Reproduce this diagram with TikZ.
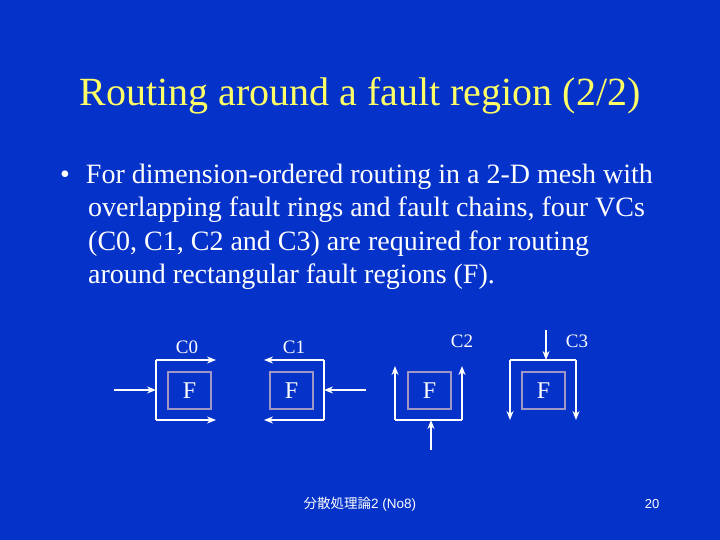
\documentclass[tikz,border=0pt]{standalone}
\usepackage{fontspec}
\setmainfont{Liberation Serif}
\newfontfamily\cjk{Noto Sans CJK JP}
\newfontfamily\sans{Liberation Sans}
\usetikzlibrary{arrows.meta}
\definecolor{bg}{RGB}{5,50,200}
\definecolor{ttl}{RGB}{255,255,102}
\definecolor{fb}{RGB}{160,150,200}
\begin{document}
\begin{tikzpicture}[x=1pt,y=-1pt,
  fbox/.style={draw=fb,line width=1.2pt,minimum width=43pt,minimum height=37pt,inner sep=0pt,text=white,font=\fontsize{24}{24}\selectfont},
  pth/.style={draw=white,line width=2pt},
  arr/.style={pth,-{Stealth[length=9pt,width=7pt]}},
  lbl/.style={text=white,font=\fontsize{19}{19}\selectfont}]
\fill[bg] (0,0) rectangle (720,540);
\useasboundingbox (0,0) rectangle (720,540);
\node[text=ttl,font=\fontsize{40}{40}\selectfont] (title) at (360,96) {Routing around a fault region (2/2)};
\node[text=white,anchor=north west,align=left,font=\fontsize{28}{33.3}\selectfont,inner sep=0pt] (bullet) at (60,164) {•\hspace{16pt}For dimension-ordered routing in a 2-D mesh with\\\hspace{28pt}overlapping fault rings and fault chains, four VCs\\\hspace{28pt}(C0, C1, C2 and C3) are required for routing\\\hspace{28pt}around rectangular fault regions (F).};
% C0
\node[fbox] (f0) at (189.5,390.5) {F};
\coordinate (a0) at (114,390); \coordinate (b0) at (156,390);
\coordinate (t0) at (156,360); \coordinate (u0) at (156,420);
\coordinate (te0) at (216,360); \coordinate (ue0) at (216,420);
\draw[arr] (a0) -- (b0);
\draw[pth] (t0) -- (u0);
\draw[arr] (t0) -- (te0);
\draw[arr] (u0) -- (ue0);
\node[lbl] (l0) at (187,347) {C0};
% C1
\node[fbox] (f1) at (291.5,390.5) {F};
\coordinate (a1) at (366,390); \coordinate (b1) at (324,390);
\coordinate (t1) at (324,360); \coordinate (u1) at (324,420);
\coordinate (te1) at (264,360); \coordinate (ue1) at (264,420);
\draw[arr] (a1) -- (b1);
\draw[pth] (t1) -- (u1);
\draw[arr] (t1) -- (te1);
\draw[arr] (u1) -- (ue1);
\node[lbl] (l1) at (294,347) {C1};
% C2
\node[fbox] (f2) at (429.5,390.5) {F};
\coordinate (a2) at (431,450); \coordinate (b2) at (431,420);
\coordinate (p2) at (395,420); \coordinate (q2) at (462,420);
\coordinate (pe2) at (395,366); \coordinate (qe2) at (462,366);
\draw[arr] (a2) -- (b2);
\draw[pth] (p2) -- (q2);
\draw[arr] (p2) -- (pe2);
\draw[arr] (q2) -- (qe2);
\node[lbl] (l2) at (462,341) {C2};
% C3
\node[fbox] (f3) at (543.5,390.5) {F};
\coordinate (a3) at (546,330); \coordinate (b3) at (546,360);
\coordinate (p3) at (510,360); \coordinate (q3) at (576,360);
\coordinate (pe3) at (510,420); \coordinate (qe3) at (576,420);
\draw[arr] (a3) -- (b3);
\draw[pth] (p3) -- (q3);
\draw[arr] (p3) -- (pe3);
\draw[arr] (q3) -- (qe3);
\node[lbl] (l3) at (577,341) {C3};
% footer
\node[text=white,font=\fontsize{13.5}{14}\selectfont] (foot) at (360,504) {{\cjk 分散処理論}{\sans 2 (No8)}};
\node[text=white,font=\sans\fontsize{13}{14}\selectfont] (pg) at (652,504) {20};
\end{tikzpicture}
\end{document}
